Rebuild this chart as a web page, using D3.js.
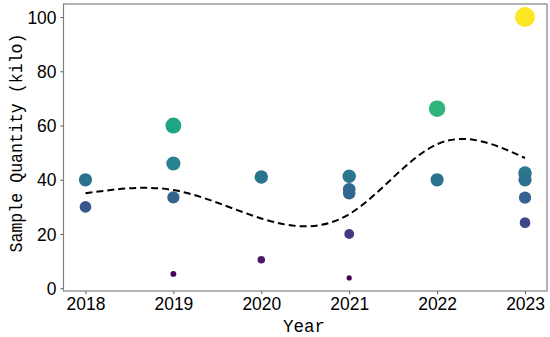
<!DOCTYPE html>
<html>
<head>
<meta charset="utf-8">
<script src="https://cdn.jsdelivr.net/npm/d3@7"></script>
<style>
    body { margin: 0; background: #fff; }
    .tick text { font-family: "Liberation Sans", Arial, sans-serif; font-size: 19px; fill: #000; }
    .axisTitle { font-family: "Liberation Mono", "DejaVu Sans Mono", monospace; font-size: 19px; fill: #000; }
</style>
</head>
<body>
<svg id="chart" width="550" height="337"></svg>
<script>
// Data.
var years = [2018, 2018,
             2019, 2019, 2019, 2019,
             2020, 2020,
             2021, 2021, 2021, 2021, 2021,
             2022, 2022,
             2023, 2023, 2023, 2023, 2023];
var quantities = [40, 30,
                  60, 46, 33.5, 5.3,
                  41, 10.5,
                  41.3, 36.5, 35, 20, 3.8,
                  66.2, 40,
                  100, 42.5, 40, 33.4, 24.2];
var xTicks = [2018, 2019, 2020, 2021, 2022, 2023];
var yTicks = [0, 20, 40, 60, 80, 100];

var svg = d3.select( '#chart' ),
    margins = { left: 63.5, right: 3, top: 4, bottom: 46 },
    width = 550 - margins.left - margins.right,
    height = 337 - margins.top - margins.bottom;

// 5% padding around the data, like the original plot.
var pad = ( d3.max( quantities ) - d3.min( quantities ) ) * 0.05;
var x = d3.scaleLinear().domain( [2017.75, 2023.25] ).range( [0, width] ),
    y = d3.scaleLinear().domain( [d3.min( quantities ) - pad, d3.max( quantities ) + pad] ).range( [height, 0] ),
    color = d3.scaleSequential( d3.interpolateViridis ).domain( d3.extent( quantities ) ),
    radius = d3.scaleSqrt().domain( [0, 100] ).range( [0.8, 10] );

var g = svg.append( 'g' ).attr( 'transform', 'translate(' + margins.left + ',' + margins.top + ')' );

// Yearly means, smoothed with a natural cubic spline for the trend line.
var means = d3.rollups( years.map( ( yr, i ) => [yr, quantities[i]] ), v => d3.mean( v, d => d[1] ), d => d[0] )
    .sort( ( a, b ) => a[0] - b[0] );

// Axes
var yAxis = g.append( 'g' ).call( d3.axisLeft( y ).tickValues( yTicks ).tickSize( 3 ).tickPadding( 4 ) );
var xAxis = g.append( 'g' ).attr( 'transform', 'translate(0,' + height + ')' )
    .call( d3.axisBottom( x ).tickValues( xTicks ).tickFormat( d3.format( 'd' ) ).tickSize( 3 ).tickPadding( 3 ) );
[xAxis, yAxis].forEach( function ( a ) {
    a.select( '.domain' ).remove();
    a.selectAll( '.tick line' ).attr( 'stroke', '#555' );
    a.selectAll( '.tick text' )
        .attr( 'textLength', function () { return this.textContent.length * 9.7; } )
        .attr( 'lengthAdjust', 'spacingAndGlyphs' );
} );

// Frame
g.append( 'rect' )
    .attr( 'x', 0 ).attr( 'y', 0 )
    .attr( 'width', width ).attr( 'height', height )
    .attr( 'fill', 'none' ).attr( 'stroke', '#808080' ).attr( 'stroke-width', 1.2 );

// Points
var points = years.map( ( yr, i ) => ( { year: yr, value: quantities[i] } ) );
g.append( 'g' ).selectAll( 'circle' )
    .data( points )
    .join( 'circle' )
    .attr( 'cx', d => x( d.year ) )
    .attr( 'cy', d => y( d.value ) )
    .attr( 'r', d => radius( d.value ) )
    .attr( 'fill', d => color( d.value ) );

// Trend line
g.append( 'path' )
    .datum( means )
    .attr( 'fill', 'none' )
    .attr( 'stroke', '#000' )
    .attr( 'stroke-width', 2 )
    .attr( 'stroke-dasharray', '7,4' )
    .attr( 'd', d3.line().x( d => x( d[0] ) ).y( d => y( d[1] ) ).curve( d3.curveNatural ) );

// Titles
svg.append( 'text' ).attr( 'class', 'axisTitle' )
    .attr( 'x', 304 ).attr( 'y', 332 )
    .attr( 'text-anchor', 'middle' )
    .attr( 'textLength', 42 ).attr( 'lengthAdjust', 'spacingAndGlyphs' )
    .text( 'Year' );
svg.append( 'text' ).attr( 'class', 'axisTitle' )
    .attr( 'transform', 'translate(22,143) rotate(-90)' )
    .attr( 'text-anchor', 'middle' )
    .attr( 'textLength', 219 ).attr( 'lengthAdjust', 'spacingAndGlyphs' )
    .text( 'Sample Quantity (kilo)' );
</script>
</body>
</html>
